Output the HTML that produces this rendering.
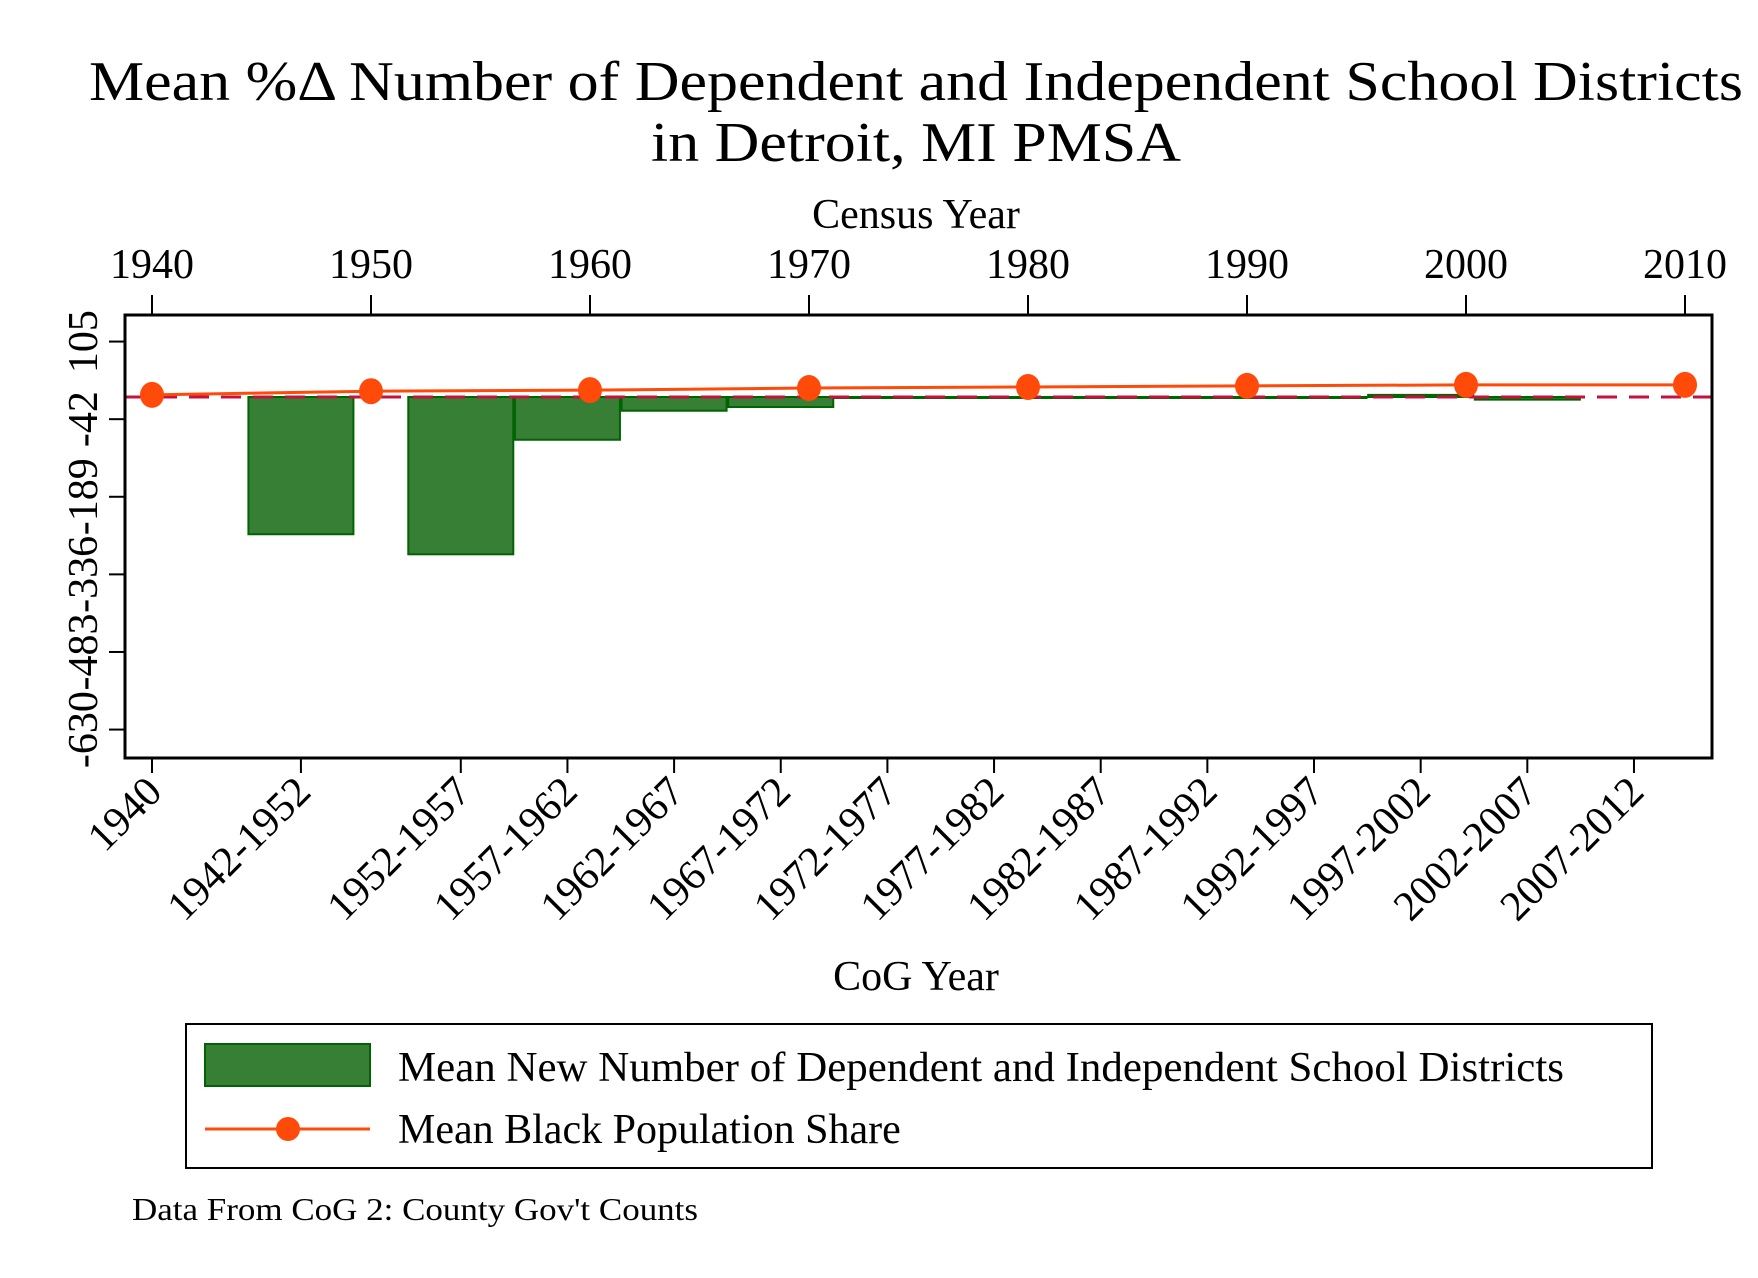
<!DOCTYPE html>
<html><head><meta charset="utf-8">
<style>
html,body{margin:0;padding:0;background:#fff;}
svg{display:block;font-family:"Liberation Serif","DejaVu Serif",serif;}
</style></head>
<body>
<svg id="chart" width="1758" height="1278" viewBox="0 0 1758 1278" xmlns="http://www.w3.org/2000/svg">
<rect width="1758" height="1278" fill="#fff"/>
<text x="916" y="100" font-size="56" text-anchor="middle" textLength="1654" lengthAdjust="spacingAndGlyphs">Mean %Δ Number of Dependent and Independent School Districts</text>
<text x="916" y="161" font-size="56" text-anchor="middle" textLength="530" lengthAdjust="spacingAndGlyphs">in Detroit, MI PMSA</text>
<text x="916" y="228" font-size="42" text-anchor="middle">Census Year</text>
<text x="916" y="990" font-size="42" text-anchor="middle">CoG Year</text>
<g id="plot"></g>
<rect x="186" y="1024" width="1466" height="144" fill="#fff" stroke="#000" stroke-width="2"/>
<rect x="205" y="1044" width="165" height="42" fill="#367f34" stroke="#006400" stroke-width="2"/>
<text x="398" y="1081" font-size="42" textLength="1166" lengthAdjust="spacingAndGlyphs">Mean New Number of Dependent and Independent School Districts</text>
<line x1="205" y1="1129" x2="370" y2="1129" stroke="#ff4a0a" stroke-width="3"/>
<circle cx="288" cy="1129" r="12" fill="#ff4a0a"/>
<text x="398" y="1143" font-size="42">Mean Black Population Share</text>
<text x="132" y="1220" font-size="32" textLength="566" lengthAdjust="spacingAndGlyphs">Data From CoG 2: County Gov't Counts</text>
</svg>
<script>
const cogCategories = ["1940","1942-1952","1952-1957","1957-1962","1962-1967","1967-1972","1972-1977","1977-1982","1982-1987","1987-1992","1992-1997","1997-2002","2002-2007","2007-2012"];
const barValues = [null,-260,-298,-81,-26,-19,-1,-1,-1,0,0,4,-5,null];
const censusYears = [1940,1950,1960,1970,1980,1990,2000,2010];
const blackShare = [4,11,13,17,19,21,23,23];
const yTicks = [105,-42,-189,-336,-483,-630];

const NS="http://www.w3.org/2000/svg";
const g=document.getElementById('plot');
const L=125,R=1712,T=315,B=758;
function xYear(y){return 152+(y-1940)*21.90;}
function yVal(v){return 397-v*(77.6/147);}
function catYear(i){ if(i===0) return 1940; if(i===1) return 1946.8; return 1954.1+4.87*(i-2);}
function xCat(i){return xYear(catYear(i));}
const barW=105;
function mk(tag,attrs){const e=document.createElementNS(NS,tag);for(const k in attrs)e.setAttribute(k,attrs[k]);g.appendChild(e);return e;}

barValues.forEach((v,i)=>{
  if(v===null) return;
  const y0=yVal(0),y1=yVal(v);
  const top=Math.min(y0,y1),h=Math.max(Math.abs(y1-y0),1);
  const r=mk('rect',{x:xCat(i)-barW/2,y:top,width:barW,height:h,fill:'#367f34',stroke:'#006400','stroke-width':2});
  
  
});
const zl=mk('line',{x1:L,x2:R,y1:yVal(0),y2:yVal(0),stroke:'#c8103c','stroke-width':3,'stroke-dasharray':'20,12'});


const pts=censusYears.map((y,i)=>xYear(y)+','+yVal(blackShare[i])).join(' ');
const pl=mk('polyline',{points:pts,fill:'none',stroke:'#ff4a0a','stroke-width':3});


censusYears.forEach((y,i)=>{
  const c=mk('ellipse',{cx:xYear(y),cy:yVal(blackShare[i]),rx:12,ry:13,fill:'#ff4a0a'});
  
  
});
const fr=mk('rect',{x:L,y:T,width:R-L,height:B-T,fill:'none',stroke:'#000','stroke-width':3});


yTicks.forEach(v=>{
  const y=yVal(v);
  const t=mk('line',{x1:L-16,x2:L,y1:y,y2:y,stroke:'#000','stroke-width':2});
  
  
  const tx=mk('text',{x:0,y:0,'font-size':42,'text-anchor':'middle',transform:`translate(97,${y}) rotate(-90)`});
  tx.textContent=v;
  
  
});
censusYears.forEach(y=>{
  const x=xYear(y);
  const t=mk('line',{x1:x,x2:x,y1:T-20,y2:T,stroke:'#000','stroke-width':2});
  
  
  const tx=mk('text',{x:x,y:278,'font-size':42,'text-anchor':'middle'});
  tx.textContent=y;
  
  
});
cogCategories.forEach((c,i)=>{
  const x=xCat(i);
  const t=mk('line',{x1:x,x2:x,y1:B,y2:B+15,stroke:'#000','stroke-width':2});
  
  
  const tx=mk('text',{x:0,y:0,'font-size':42,'text-anchor':'end',transform:`translate(${x+12},${B+36}) rotate(-45)`});
  tx.textContent=c;
  
  
});
</script>
</body></html>
